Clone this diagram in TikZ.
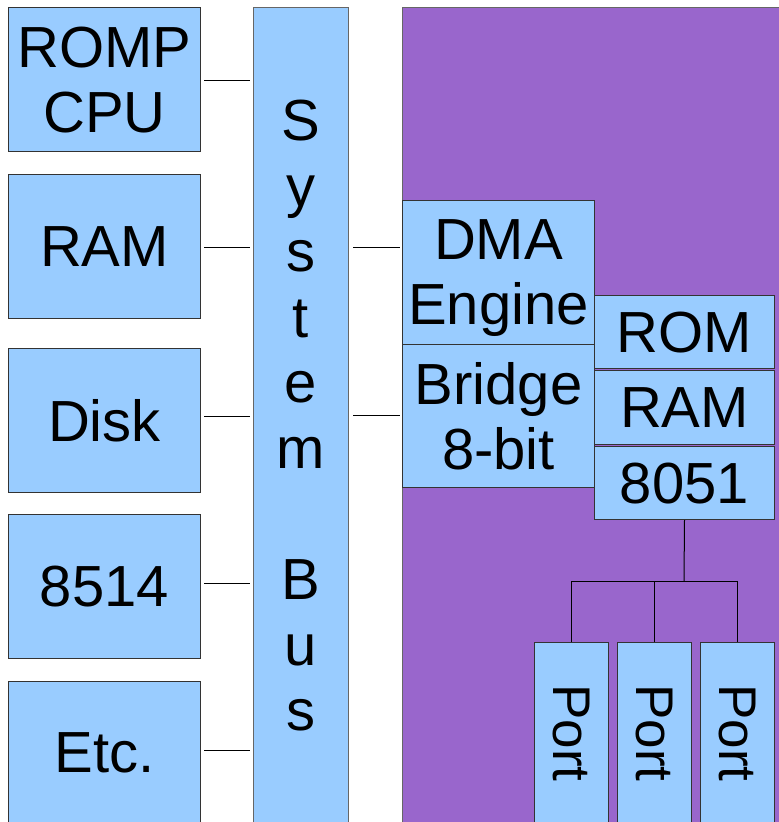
\documentclass[tikz,border=0pt]{standalone}
\usepackage{fontspec}
\setmainfont{Liberation Sans}
\definecolor{boxblue}{HTML}{99CCFF}
\definecolor{chip}{HTML}{9966CC}
\begin{document}
\begin{tikzpicture}[x=1pt,y=-1pt,
  box/.style={draw=black!80, fill=boxblue, line width=1pt, inner sep=0pt,
    align=center, font=\fontsize{58}{65}\selectfont, text depth=0pt, anchor=north west},
  porttext/.style={rotate=-90, inner sep=0pt, font=\fontsize{53}{60}\selectfont},
  wire/.style={draw=black, line width=1pt}]
\useasboundingbox (0,0) rectangle (779,822);
\clip (0,0) rectangle (779,822);
\fill[white] (0,0) rectangle (779,822);
% chip area
\node[draw=black!60, fill=chip, line width=1pt, minimum width=400pt, minimum height=840pt, anchor=north west, inner sep=0pt] (chipbg) at (402,7) {};
% left column
\node[box, minimum width=192pt, minimum height=144pt] (romp) at (8,7) {ROMP\\CPU};
\node[box, minimum width=192pt, minimum height=144pt] (ram) at (8,174) {RAM};
\node[box, minimum width=192pt, minimum height=144pt] (disk) at (8,348) {Disk};
\node[box, minimum width=192pt, minimum height=144pt] (ibm) at (8,514) {8514};
\node[box, minimum width=192pt, minimum height=142pt] (etc) at (8,681) {Etc.};
% system bus
\node[box, draw=black!60, minimum width=95pt, minimum height=816pt, font=\fontsize{58}{65.6}\selectfont] (bus) at (253,7) {S\\y\\s\\t\\e\\m\\~\\B\\u\\s};
% chip internals
\node[box, minimum width=192pt, minimum height=144pt] (dma) at (402,200) {DMA\\Engine};
\node[box, minimum width=192pt, minimum height=143pt] (bridge) at (402,344) {Bridge\\8-bit};
\node[box, minimum width=180pt, minimum height=73pt] (rom) at (594,295) {ROM};
\node[box, minimum width=180pt, minimum height=74pt] (ram2) at (594,370) {RAM};
\node[box, minimum width=180pt, minimum height=73pt] (mcu) at (594,446) {8051};
% ports
\node[box, minimum width=74pt, minimum height=181pt] (p1) at (534,642) {};
\node[box, minimum width=74pt, minimum height=181pt] (p2) at (617,642) {};
\node[box, minimum width=74pt, minimum height=181pt] (p3) at (700,642) {};
\node[porttext] (p1t) at (p1.center) {Port};
\node[porttext] (p2t) at (p2.center) {Port};
\node[porttext] (p3t) at (p3.center) {Port};
% connectors to the bus
\draw[wire, shorten <=3pt, shorten >=3pt] ([yshift=-1pt]romp.east) -- ([yshift=-1pt]romp.east -| bus.west);
\draw[wire, shorten <=3pt, shorten >=3pt] ([yshift=-1pt]ram.east) -- ([yshift=-1pt]ram.east -| bus.west);
\draw[wire, shorten <=3pt, shorten >=3pt] ([yshift=4pt]disk.east) -- ([yshift=4pt]disk.east -| bus.west);
\draw[wire, shorten <=3pt, shorten >=3pt] ([yshift=3pt]ibm.east) -- ([yshift=3pt]ibm.east -| bus.west);
\draw[wire, shorten <=3pt, shorten >=3pt] ([yshift=2pt]etc.east) -- ([yshift=2pt]etc.east -| bus.west);
\draw[wire, shorten <=4pt, shorten >=2pt] ([yshift=-1pt]bus.east |- ram.east) -- ([yshift=-1pt]dma.west |- ram.east);
\draw[wire, shorten <=4pt, shorten >=2pt] ([yshift=1pt]bus.east |- bridge.west) -- ([yshift=1pt]bridge.west);
% 8051 to ports
\coordinate (split) at (684,581);
\draw[wire] (mcu.south) -- (split);
\draw[wire] (p1.north) |- (split);
\draw[wire] (p3.north) |- (split);
\draw[wire] (p2.north) -- (p2.north |- split);
\end{tikzpicture}
\end{document}
